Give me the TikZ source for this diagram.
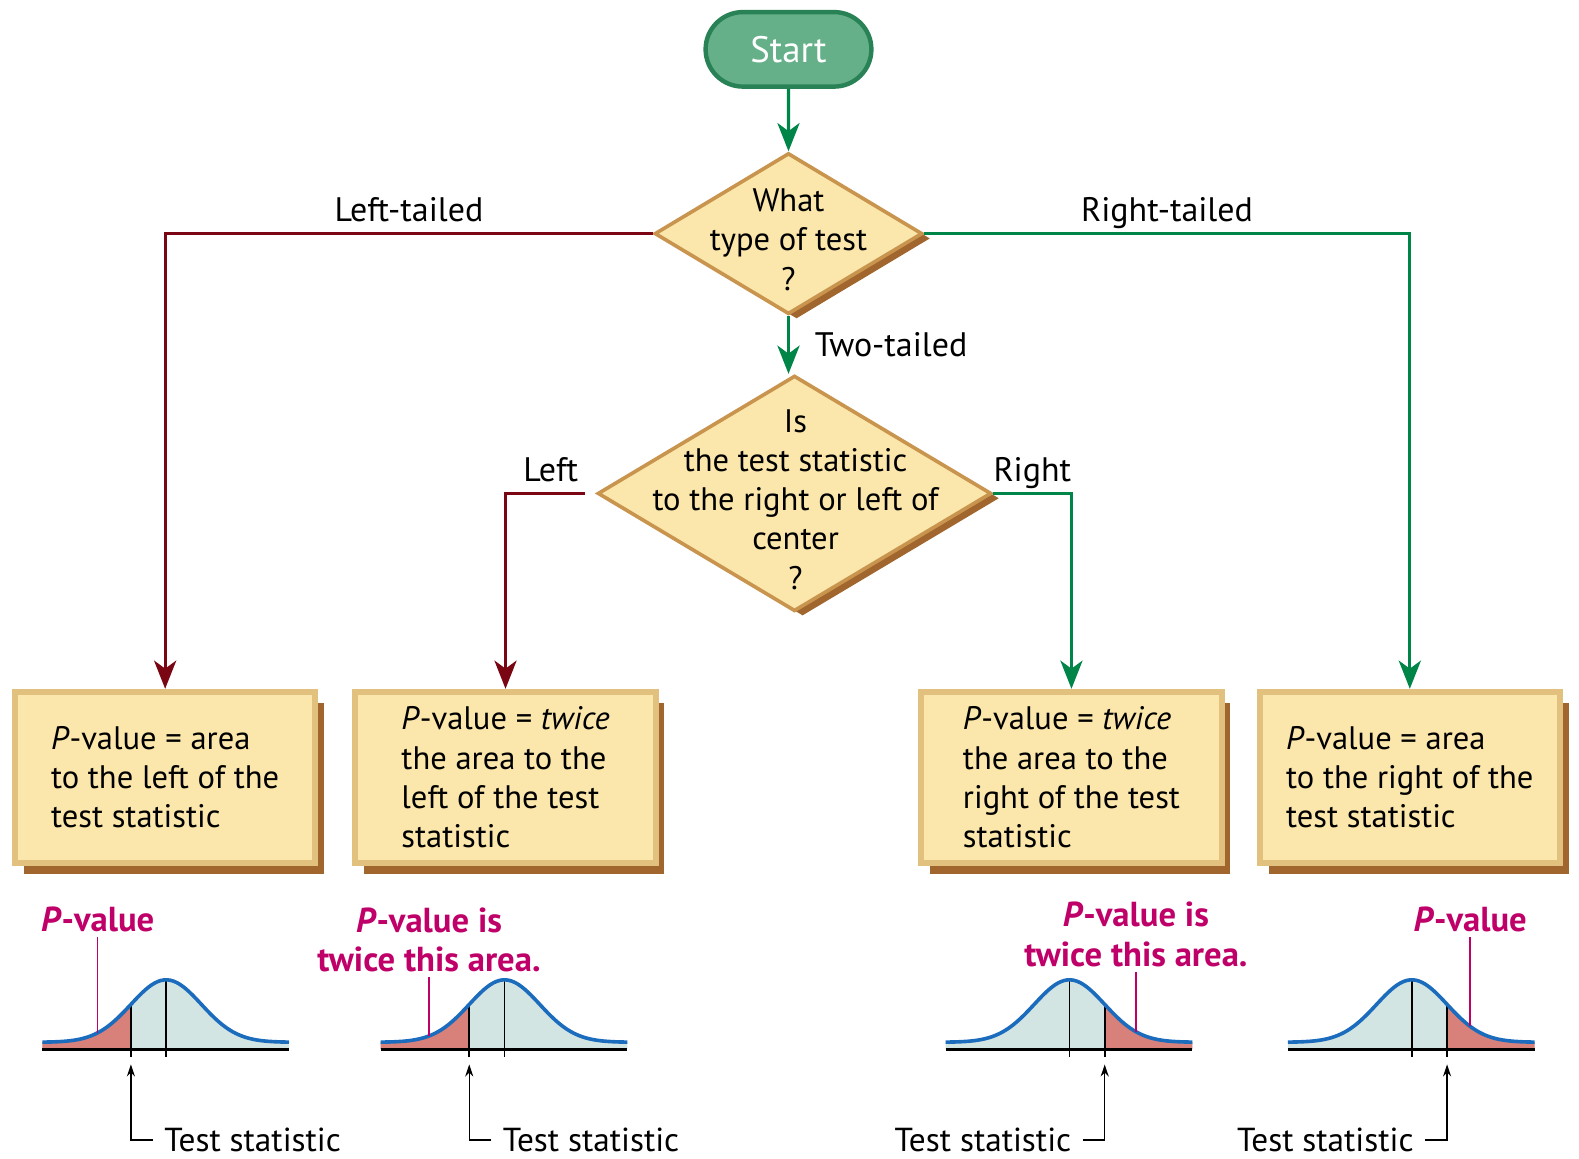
\documentclass[tikz,border=0pt]{standalone}
\usepackage{fontspec}
\setmainfont{PT Sans}
\usepackage{tikz}
\usetikzlibrary{shapes,arrows.meta,positioning,calc,shadows}
\definecolor{flowgreen}{RGB}{0,133,72}
\definecolor{flowred}{RGB}{122,6,20}
\definecolor{startfill}{RGB}{101,176,137}
\definecolor{startedge}{RGB}{40,130,85}
\definecolor{cardfill}{RGB}{251,231,171}
\definecolor{cardedge}{RGB}{226,192,126}
\definecolor{diamondedge}{RGB}{200,148,78}
\definecolor{cardshadow}{RGB}{160,102,45}
\definecolor{curveblue}{RGB}{28,108,190}
\definecolor{curvefill}{RGB}{211,229,227}
\definecolor{tailfill}{RGB}{216,128,122}
\definecolor{pvmagenta}{RGB}{192,0,105}

\begin{document}
\begin{tikzpicture}[
        x=0.25mm, y=-0.25mm,
        every node/.style={font=\fontsize{23}{27.7}\selectfont},
        startnode/.style={rounded rectangle, draw=startedge, line width=1.1mm, fill=startfill, text=white, minimum width=43.5mm, minimum height=18.5mm, font=\fontsize{26}{30}\selectfont},
        decision/.style={diamond, draw=diamondedge, line width=0.9mm, fill=cardfill, inner sep=0pt,
            drop shadow={shadow xshift=2mm, shadow yshift=-1.2mm, fill=cardshadow, opacity=1}},
        card/.style={rectangle, draw=cardedge, line width=1.5mm, fill=cardfill, minimum width=74.5mm, minimum height=42.5mm, align=left,
            drop shadow={shadow xshift=2.2mm, shadow yshift=-2.7mm, fill=cardshadow, opacity=1}},
        branch/.style={text=black, text depth=0pt, font=\fontsize{24}{28}\selectfont},
        greenarrow/.style={-{Stealth[length=7mm, width=5.5mm, inset=2mm]}, line width=0.75mm, flowgreen},
        redarrow/.style={-{Stealth[length=7mm, width=5.5mm, inset=2mm]}, line width=0.75mm, flowred},
        pvlabel/.style={text=pvmagenta, align=center, font=\bfseries\fontsize{24.5}{27.7}\selectfont},
        pvline/.style={pvmagenta, line width=0.4mm},
        pointer/.style={-{Stealth[length=3mm, width=2mm]}, line width=0.3mm},
        bell/.style={curveblue, line width=0.9mm}
    ]
    \useasboundingbox (0,0) rectangle (1568,1150);

    \node[startnode] (start) at (783,49) {Start};
    \node[decision, minimum width=66.5mm, minimum height=40mm] (type) at (783,232) {};
    \node[align=center] (typetext) at (783,238) {What\\type of test\\?};
    \node[decision, minimum width=97.75mm, minimum height=58.5mm] (side) at (789,490) {};
    \node[align=center] (sidetext) at (790,496) {Is\\the test statistic\\to the right or left of\\center\\?};

    \node[card] (leftcard) at (164,772) {\textit{P}-value = area\\to the left of the\\test statistic};
    \node[card] (twoleftcard) at (502,772) {\textit{P}-value = \textit{twice}\\the area to the\\left of the test\\statistic};
    \node[card] (tworightcard) at (1064,772) {\textit{P}-value = \textit{twice}\\the area to the\\right of the test\\statistic};
    \node[card] (rightcard) at (1400,772) {\textit{P}-value = area\\to the right of the\\test statistic};

    \draw[greenarrow] (start) -- (type);
    \draw[redarrow] (type.west) -| node[branch, pos=0.25, above=1.5mm] {Left-tailed} (leftcard.north);
    \draw[greenarrow] (type.east) -| node[branch, pos=0.25, above=1.5mm] {Right-tailed} (rightcard.north);
    \draw[greenarrow] (type.south) -- node[branch, right=5mm] {Two-tailed} (type.south |- side.north);
    \draw[redarrow, shorten <=2.75mm] (side.west) -| node[branch, pos=0.25, above=1.5mm] {Left} (twoleftcard.north);
    \draw[greenarrow] (side.east) -| node[branch, pos=0.25, above=1.5mm] {Right} (tworightcard.north);

    % bell curves under the cards
    \foreach \cx/\side/\mx/\ly/\lab [count=\i] in {
            165/-1/-68/913/{\textit{P}-value},
            501/-1/-75/933/{\textit{P}-value is\\twice this area.},
            1062/1/66/928/{\textit{P}-value is\\twice this area.},
            1402/1/58/913/{\textit{P}-value}} {
        \ifnum\side<0 \def\tsanchor{west}\else\def\tsanchor{east}\fi
        \pgfmathsetmacro\ta{\side<0 ? -123 : 35}
        \pgfmathsetmacro\tb{\side<0 ? -35 : 122}
        \begin{scope}[shift={(\cx,0)}]
            \fill[curvefill] (-123,1042) -- plot[domain=-123:122, samples=80] (\x,{1035-62*exp(-((\x)*(\x))/2450)}) -- (122,1042) -- cycle;
            \fill[tailfill] (\ta,1042) -- plot[domain=\ta:\tb, samples=40] (\x,{1035-62*exp(-((\x)*(\x))/2450)}) -- (\tb,1042) -- cycle;
            \draw[line width=0.6mm] (-123,1042) -- (122,1042);
            \draw[line width=0.45mm] (0,973) -- (0,1050);
            \draw[line width=0.45mm] ({35*(\side)},997) -- ({35*(\side)},1050);
            \draw[bell] plot[domain=-123:122, samples=80, smooth] (\x,{1035-62*exp(-((\x)*(\x))/2450)});
            \coordinate (tick\i) at ({35*(\side)},1057);
            \node[anchor=\tsanchor, inner xsep=2.75mm, font=\fontsize{23.5}{28}\selectfont] (ts\i) at ({13*(\side)},1132) {Test statistic};
            \draw[pointer] (ts\i.\tsanchor) -| (tick\i);
            \coordinate (tail\i) at (\mx,{1035-62*exp(-((\mx)*(\mx))/2450)});
            \node[pvlabel] (pv\i) at (\mx,\ly) {\lab};
            \draw[pvline] (pv\i.south) -- (tail\i);
        \end{scope}
    }
\end{tikzpicture}
\end{document}
